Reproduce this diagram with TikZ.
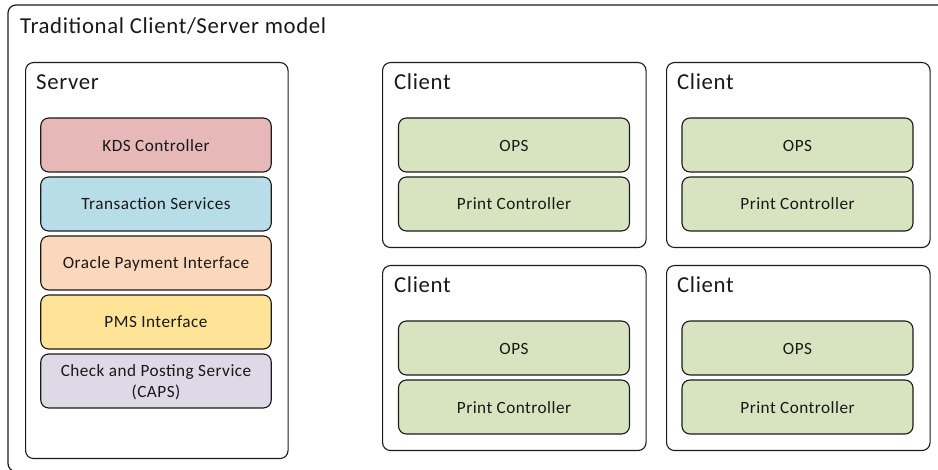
\documentclass[tikz,border=0pt]{standalone}
\usepackage{fontspec}
\setmainfont[LetterSpace=2.8]{Carlito}
\definecolor{linec}{HTML}{1A1A1A}
\definecolor{kds}{HTML}{E6B8B7}
\definecolor{trans}{HTML}{B7DDE8}
\definecolor{opi}{HTML}{FBD7BB}
\definecolor{pms}{HTML}{FFE498}
\definecolor{caps}{HTML}{DDD9E6}
\definecolor{ops}{HTML}{D8E3BF}
\newcommand{\lowered}[1]{\raisebox{-1pt}[\height][\depth]{#1}}
\tikzset{
  outerbox/.style={draw=linec,line width=1.2pt,rounded corners=8pt},
  group/.style={draw=linec,line width=1.1pt,rounded corners=8pt,anchor=north west,inner sep=0pt},
  item/.style={draw=linec,line width=1.1pt,rounded corners=8pt,minimum height=54pt,inner sep=0pt,align=center,font=\fontsize{17.2}{21}\selectfont,text=black!90},
  server item/.style={item,minimum width=230.5pt},
  client item/.style={item,fill=ops,minimum width=231pt},
  heading/.style={anchor=west,inner sep=0pt,text=black!90,font=\fontsize{22.8}{26}\selectfont}
}
\begin{document}
\begin{tikzpicture}[x=1pt,y=-1pt]
\useasboundingbox (0,0) rectangle (938,470);
\begin{scope}
\clip (0,0) rectangle (938,470);
\draw[outerbox] (8,5) rectangle (950,471.5);
\end{scope}
\node[heading] (title) at (20,26) {Traditional Client/Server model};
% server
\node[group,minimum width=262.5pt,minimum height=396pt] (server) at (25,62) {};
\node[heading] (serverlabel) at (36,82) {Server};
\node[server item,fill=kds] (kds) at (156,145) {\lowered{KDS Controller}};
\node[server item,fill=trans] (ts) at (156,204) {Transaction Services};
\node[server item,fill=opi] (opi) at (156,263) {\lowered{Oracle Payment Interface}};
\node[server item,fill=pms] (pms) at (156,322) {PMS Interface};
\node[server item,fill=caps] (caps) at (156,381) {\lowered{Check and Posting Service}\\\lowered{(CAPS)}};
% clients
\node[group,minimum width=263.5pt,minimum height=185pt] (c1) at (382,62) {};
\node[heading] (c1l) at (394,82) {Client};
\node[client item] (c1a) at (514,145) {\lowered{OPS}};
\node[client item] (c1b) at (514,204) {Print Controller};
\node[group,minimum width=263.5pt,minimum height=185pt] (c2) at (666,62) {};
\node[heading] (c2l) at (677,82) {Client};
\node[client item] (c2a) at (797.5,145) {\lowered{OPS}};
\node[client item] (c2b) at (797.5,204) {Print Controller};
\node[group,minimum width=263.5pt,minimum height=185pt] (c3) at (382,265) {};
\node[heading] (c3l) at (394,285) {Client};
\node[client item] (c3a) at (514,348) {\lowered{OPS}};
\node[client item] (c3b) at (514,407) {\lowered{Print Controller}};
\node[group,minimum width=263.5pt,minimum height=185pt] (c4) at (666,265) {};
\node[heading] (c4l) at (677,285) {Client};
\node[client item] (c4a) at (797.5,348) {\lowered{OPS}};
\node[client item] (c4b) at (797.5,407) {\lowered{Print Controller}};
\end{tikzpicture}
\end{document}
